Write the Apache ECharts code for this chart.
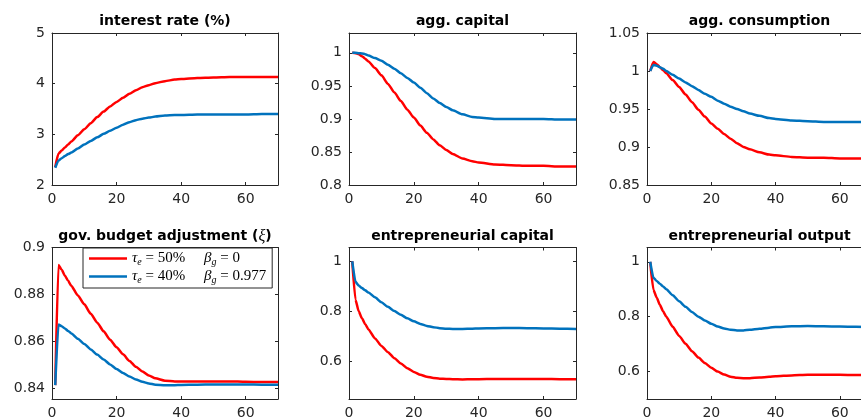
<!DOCTYPE html>
<html>
<head>
<meta charset="utf-8">
<script src="https://cdn.jsdelivr.net/npm/echarts@6/dist/echarts.min.js"></script>
<style>
  html, body { margin: 0; padding: 0; background: #fff; overflow: hidden; }
  #main { width: 880px; height: 420px; }
</style>
</head>
<body>
<div id="main"></div>
<script>
// Transition paths after the tax reform, periods 1..70
const periods = [1, 2, 3, 4, 5, 6, 8, 10, 12, 14, 16, 18, 20, 22, 24, 26, 28, 30, 32, 35, 38, 40, 45, 50, 55, 60, 65, 70];

const panelTitles = ['interest rate (%)', 'agg. capital', 'agg. consumption',
                     'gov. budget adjustment (\u03BE)', 'entrepreneurial capital', 'entrepreneurial output'];

const seriesNames = ['\u03C4e = 50%  \u03B2g = 0', '\u03C4e = 40%  \u03B2g = 0.977'];

// interest rate (%)
const rateA = [2.35, 2.62, 2.68, 2.74, 2.80, 2.86, 2.98, 3.10, 3.22, 3.34, 3.45, 3.55, 3.64, 3.72, 3.80, 3.87, 3.93, 3.97, 4.01, 4.05, 4.08, 4.09, 4.11, 4.12, 4.13, 4.13, 4.13, 4.13];
const rateB = [2.34, 2.48, 2.53, 2.57, 2.61, 2.64, 2.72, 2.80, 2.87, 2.94, 3.01, 3.07, 3.13, 3.19, 3.24, 3.28, 3.31, 3.33, 3.35, 3.37, 3.38, 3.38, 3.39, 3.39, 3.39, 3.39, 3.40, 3.40];

// aggregate capital
const capitalA = [1.0, 0.9995, 0.998, 0.995, 0.991, 0.987, 0.977, 0.966, 0.953, 0.940, 0.927, 0.914, 0.902, 0.890, 0.879, 0.869, 0.860, 0.853, 0.847, 0.840, 0.836, 0.834, 0.831, 0.830, 0.829, 0.829, 0.828, 0.828];
const capitalB = [1.0, 1.0, 0.9995, 0.999, 0.998, 0.996, 0.992, 0.988, 0.982, 0.976, 0.969, 0.962, 0.955, 0.947, 0.939, 0.931, 0.924, 0.918, 0.913, 0.907, 0.903, 0.902, 0.900, 0.900, 0.900, 0.900, 0.899, 0.899];

// aggregate consumption
const consA = [1.0, 1.012, 1.009, 1.005, 1.001, 0.997, 0.988, 0.979, 0.969, 0.959, 0.949, 0.940, 0.931, 0.924, 0.917, 0.911, 0.905, 0.900, 0.897, 0.893, 0.890, 0.889, 0.887, 0.886, 0.886, 0.885, 0.885, 0.885];
const consB = [1.0, 1.008, 1.007, 1.005, 1.003, 1.000, 0.995, 0.990, 0.985, 0.980, 0.975, 0.970, 0.966, 0.961, 0.957, 0.953, 0.950, 0.947, 0.944, 0.941, 0.938, 0.937, 0.935, 0.934, 0.933, 0.933, 0.933, 0.933];

// government budget adjustment
const xiA = [0.8414, 0.8925, 0.8905, 0.8880, 0.8858, 0.8836, 0.8796, 0.8758, 0.8718, 0.8680, 0.8643, 0.8607, 0.8575, 0.8545, 0.8517, 0.8492, 0.8472, 0.8455, 0.8443, 0.8433, 0.8430, 0.8430, 0.8430, 0.8430, 0.8430, 0.8428, 0.8427, 0.8427];
const xiB = [0.8414, 0.8672, 0.8665, 0.8655, 0.8645, 0.8634, 0.8611, 0.8589, 0.8566, 0.8544, 0.8523, 0.8502, 0.8483, 0.8466, 0.8451, 0.8438, 0.8428, 0.8421, 0.8416, 0.8414, 0.8414, 0.8415, 0.8416, 0.8417, 0.8417, 0.8417, 0.8416, 0.8416];

// entrepreneurial capital
const entCapA = [1.0, 0.846, 0.800, 0.772, 0.749, 0.728, 0.692, 0.662, 0.637, 0.613, 0.592, 0.573, 0.558, 0.547, 0.539, 0.534, 0.531, 0.530, 0.529, 0.528, 0.529, 0.529, 0.530, 0.530, 0.530, 0.530, 0.529, 0.529];
const entCapB = [1.0, 0.918, 0.903, 0.893, 0.884, 0.875, 0.856, 0.836, 0.818, 0.801, 0.786, 0.772, 0.760, 0.750, 0.742, 0.737, 0.733, 0.731, 0.730, 0.730, 0.731, 0.732, 0.733, 0.734, 0.733, 0.732, 0.731, 0.730];

// entrepreneurial output
const entOutA = [1.0, 0.898, 0.870, 0.843, 0.820, 0.800, 0.763, 0.730, 0.701, 0.674, 0.651, 0.631, 0.614, 0.600, 0.589, 0.581, 0.577, 0.576, 0.576, 0.578, 0.581, 0.583, 0.586, 0.588, 0.588, 0.588, 0.587, 0.587];
const entOutB = [1.0, 0.942, 0.930, 0.920, 0.910, 0.900, 0.878, 0.856, 0.836, 0.817, 0.800, 0.786, 0.774, 0.764, 0.757, 0.752, 0.750, 0.750, 0.752, 0.756, 0.760, 0.762, 0.765, 0.766, 0.765, 0.764, 0.763, 0.762];

const xTicks = [0, 20, 40, 60];
const yTicks = [
  [2, 3, 4, 5],
  [0.8, 0.85, 0.9, 0.95, 1],
  [0.85, 0.9, 0.95, 1, 1.05],
  [0.84, 0.86, 0.88, 0.9],
  [0.6, 0.8, 1],
  [0.6, 0.8, 1]
];
const yRanges = [[2, 5], [0.8, 1.03], [0.85, 1.05], [0.8355, 0.9], [0.45, 1.055], [0.5, 1.052]];
const panelData = [[rateA, rateB], [capitalA, capitalB], [consA, consB], [xiA, xiB], [entCapA, entCapB], [entOutA, entOutB]];

// panel geometry (px); the third column runs past the right edge of the page
const colLeft = [52, 349, 647];
const colWidth = [226, 227, 225];
const rowTop = [33, 247.5];
const rowHeight = [152, 152.5];
const titleY = [21.8, 236.8];

const axisColor = '#262626';
const lineColors = ['#FF0000', '#0072BD'];
const sansFont = '"DejaVu Sans", Verdana, sans-serif';
const serifFont = '"Liberation Serif", "DejaVu Serif", serif';

const titleRich = {
  b: { fontFamily: sansFont, fontWeight: 'bold', fontSize: 14, fill: '#000', color: '#000' },
  g: { fontFamily: serifFont, fontStyle: 'italic', fontSize: 16, fill: '#000', color: '#000' }
};

// greek letters in titles are set in italic serif
function titleMarkup(text) {
  return text.split(/([\u0370-\u03FF])/).filter(s => s.length)
    .map(s => /[\u0370-\u03FF]/.test(s) ? '{g|' + s + '}' : '{b|' + s + '}').join('');
}

const grids = [], xAxes = [], yAxes = [], series = [], graphics = [];

for (let p = 0; p < 6; p++) {
  const r = Math.floor(p / 3), c = p % 3;
  grids.push({ left: colLeft[c], top: rowTop[r], width: colWidth[c], height: rowHeight[r], show: false });

  const tickStyle = { show: true, inside: true, length: 3, lineStyle: { color: axisColor, width: 1 } };
  const lineStyle = { show: true, onZero: false, lineStyle: { color: axisColor, width: 1 } };

  xAxes.push({
    type: 'value', gridIndex: p, min: 0, max: 70, position: 'bottom',
    axisLine: lineStyle,
    axisTick: Object.assign({ customValues: xTicks }, tickStyle),
    axisLabel: { customValues: xTicks, color: axisColor, fontSize: 14, fontFamily: sansFont, margin: 7 },
    splitLine: { show: false }
  });
  xAxes.push({
    type: 'value', gridIndex: p, min: 0, max: 70, position: 'top',
    axisLine: lineStyle,
    axisTick: Object.assign({ customValues: xTicks }, tickStyle),
    axisLabel: { show: false },
    splitLine: { show: false }
  });
  yAxes.push({
    type: 'value', gridIndex: p, min: yRanges[p][0], max: yRanges[p][1], position: 'left',
    axisLine: lineStyle,
    axisTick: Object.assign({ customValues: yTicks[p] }, tickStyle),
    axisLabel: { customValues: yTicks[p], color: axisColor, fontSize: 14, fontFamily: sansFont, margin: 7 },
    splitLine: { show: false }
  });
  yAxes.push({
    type: 'value', gridIndex: p, min: yRanges[p][0], max: yRanges[p][1], position: 'right',
    axisLine: lineStyle,
    axisTick: Object.assign({ customValues: yTicks[p] }, tickStyle),
    axisLabel: { show: false },
    splitLine: { show: false }
  });

  for (let s = 0; s < 2; s++) {
    series.push({
      type: 'line', name: seriesNames[s],
      xAxisIndex: 2 * p, yAxisIndex: 2 * p,
      data: periods.map((t, i) => [t, panelData[p][s][i]]),
      showSymbol: false, symbol: 'none',
      smooth: 0.2, smoothMonotone: 'x',
      lineStyle: { color: lineColors[s], width: 2.5 },
      itemStyle: { color: lineColors[s] },
      animation: false, silent: true
    });
  }

  graphics.push({
    type: 'text',
    x: colLeft[c] + colWidth[c] / 2,
    y: titleY[r],
    style: {
      text: titleMarkup(panelTitles[p]), rich: titleRich,
      textAlign: 'center', textVerticalAlign: 'middle',
      font: 'bold 14px ' + sansFont, fill: '#000'
    }
  });
}

const legendRich = {
  m: { fontFamily: serifFont, fontStyle: 'italic', fontSize: 15, color: '#000' },
  sub: { fontFamily: serifFont, fontStyle: 'italic', fontSize: 10, color: '#000', padding: [7, 0, 0, 0] },
  r: { fontFamily: serifFont, fontSize: 15, color: '#000' }
};

function legendLabel(name) {
  // "τe = 50%  βg = 0" -> symbol, subscript, remainder
  const parts = name.split('  ');
  return parts.map((part, k) => {
    const sym = part.charAt(0), sub = part.charAt(1), rest = part.slice(2);
    return '{m|' + sym + '}{sub|' + sub + '}{r|' + rest + (k === 0 ? '     ' : '') + '}';
  }).join('');
}

const chart = echarts.init(document.getElementById('main'), null, { renderer: 'canvas' });
chart.setOption({
  animation: false,
  backgroundColor: '#fff',
  grid: grids,
  xAxis: xAxes,
  yAxis: yAxes,
  series: series,
  graphic: graphics,
  legend: {
    data: seriesNames,
    orient: 'vertical',
    left: 83, top: 248,
    icon: 'rect', itemWidth: 38, itemHeight: 2.5,
    itemGap: 2,
    padding: [3, 6, 3, 6],
    backgroundColor: '#fff',
    borderColor: axisColor, borderWidth: 1, borderRadius: 0,
    selectedMode: false,
    formatter: legendLabel,
    textStyle: { rich: legendRich }
  }
});
</script>
</body>
</html>
